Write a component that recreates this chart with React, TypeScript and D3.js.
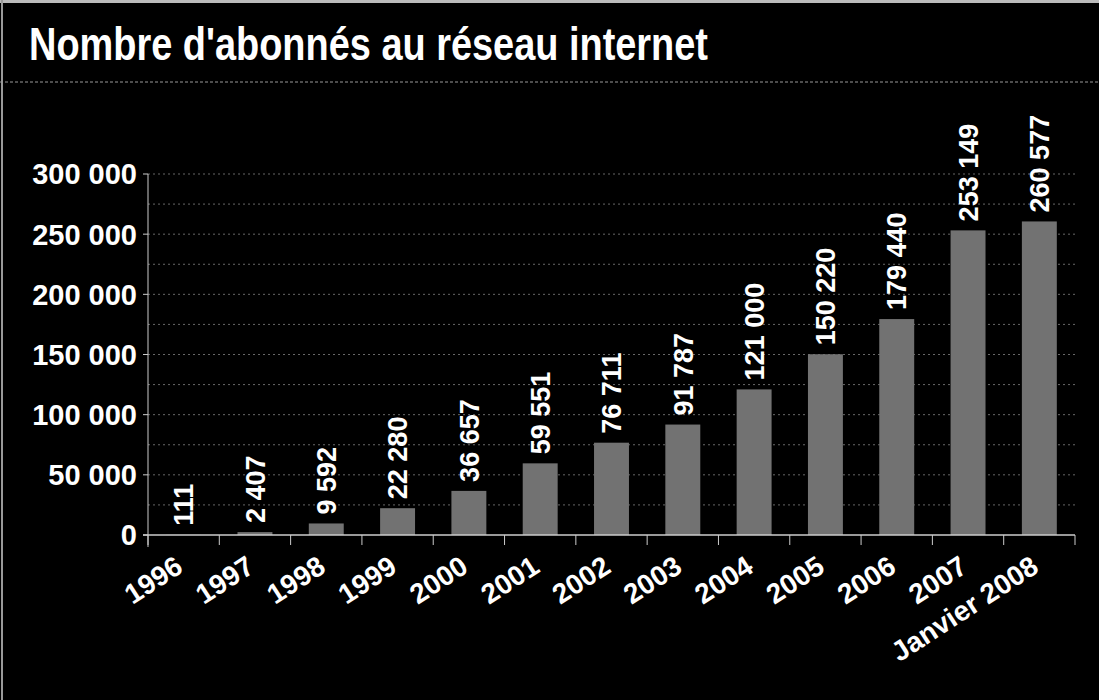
import { useRef, useEffect } from 'react'
import * as d3 from 'd3'

const categories = ['1996', '1997', '1998', '1999', '2000', '2001', '2002', '2003', '2004', '2005', '2006', '2007', 'Janvier 2008']
const subscribers = [111, 2407, 9592, 22280, 36657, 59551, 76711, 91787, 121000, 150220, 179440, 253149, 260577]
const yTicks = [0, 50000, 100000, 150000, 200000, 250000, 300000]
const gridValues = [25000, 50000, 75000, 100000, 125000, 150000, 175000, 200000, 225000, 250000, 275000, 300000]
const title = "Nombre d'abonnés au réseau internet"

const W = 1099
const H = 700

const App = () => {
  const svgRef = useRef(null)

  useEffect(() => {
    document.body.style.margin = '0'
    const svg = d3.select(svgRef.current)
    svg.selectAll('*').remove()

    const fr = d3.formatLocale({ decimal: ',', thousands: ' ', grouping: [3], currency: ['', ''] })
    const fmt = fr.format(',d')

    const x = d3.scaleBand()
      .domain(categories)
      .range([148, 1075])
      .paddingInner(0.51)
      .paddingOuter(0.255)

    const y = d3.scaleLinear()
      .domain([0, 300000])
      .range([535, 174])

    // background
    svg.append('rect').attr('width', W).attr('height', H).attr('fill', '#000')
    svg.append('rect').attr('width', W).attr('height', 3).attr('fill', '#bbb')
    svg.append('rect').attr('x', 1).attr('width', 2).attr('height', H).attr('fill', '#999')

    // title
    svg.append('text')
      .attr('x', 29)
      .attr('y', 60)
      .attr('fill', '#fff')
      .attr('font-family', '"Liberation Sans Narrow", "Arial Narrow", "Liberation Sans", Arial, sans-serif')
      .attr('font-weight', 'bold')
      .attr('font-size', 47)
      .attr('textLength', 679)
      .attr('lengthAdjust', 'spacingAndGlyphs')
      .text(title)

    svg.append('line')
      .attr('x1', 0).attr('x2', W)
      .attr('y1', 82).attr('y2', 82)
      .attr('stroke', '#999')
      .attr('stroke-dasharray', '3,2')

    // gridlines
    svg.append('g')
      .selectAll('line')
      .data(gridValues)
      .join('line')
      .attr('x1', 148).attr('x2', 1075)
      .attr('y1', d => y(d)).attr('y2', d => y(d))
      .attr('stroke', '#8a8a8a')
      .attr('stroke-width', 1)
      .attr('stroke-dasharray', '2,3')
      .attr('opacity', 0.75)

    // bars
    svg.append('g')
      .selectAll('rect')
      .data(subscribers)
      .join('rect')
      .attr('x', (d, i) => x(categories[i]))
      .attr('width', x.bandwidth())
      .attr('y', d => y(d))
      .attr('height', d => y(0) - y(d))
      .attr('fill', '#727272')

    // axes
    svg.append('line')
      .attr('x1', 148).attr('x2', 148)
      .attr('y1', 174).attr('y2', 547)
      .attr('stroke', '#ccc')
    svg.append('line')
      .attr('x1', 143).attr('x2', 1075)
      .attr('y1', 535).attr('y2', 535)
      .attr('stroke', '#ccc')
      .attr('stroke-width', 1.5)

    svg.append('g')
      .selectAll('line')
      .data(categories.map((c, i) => i === 0 ? 148 : x(c) - x.step() * x.paddingInner() / 2).concat([1075]))
      .join('line')
      .attr('x1', d => d).attr('x2', d => d)
      .attr('y1', 535).attr('y2', 545)
      .attr('stroke', '#ccc')

    const yAxis = svg.append('g')
    yAxis.selectAll('line')
      .data(yTicks)
      .join('line')
      .attr('x1', 143).attr('x2', 148)
      .attr('y1', d => y(d)).attr('y2', d => y(d))
      .attr('stroke', '#ccc')
    yAxis.selectAll('text')
      .data(yTicks)
      .join('text')
      .attr('x', 137)
      .attr('y', d => y(d))
      .attr('dy', '0.36em')
      .attr('text-anchor', 'end')
      .attr('fill', '#fff')
      .attr('font-family', '"Liberation Sans", Arial, sans-serif')
      .attr('font-weight', 'bold')
      .attr('font-size', 29)
      .text(d => fmt(d))

    // value labels
    svg.append('g')
      .selectAll('text')
      .data(subscribers)
      .join('text')
      .attr('transform', (d, i) => `translate(${x(categories[i]) + x.bandwidth() / 2}, ${y(d) - 9}) rotate(-90)`)
      .attr('dy', '0.36em')
      .attr('text-anchor', 'start')
      .attr('fill', '#fff')
      .attr('font-family', '"Liberation Sans", Arial, sans-serif')
      .attr('font-weight', 'bold')
      .attr('font-size', 27)
      .text(d => fmt(d))

    // category labels
    svg.append('g')
      .selectAll('text')
      .data(categories)
      .join('text')
      .attr('transform', d => `translate(${x(d) + x.bandwidth() / 2 + 1}, 571) rotate(-33)`)
      .attr('text-anchor', 'end')
      .attr('fill', '#fff')
      .attr('font-family', '"Liberation Sans", Arial, sans-serif')
      .attr('font-weight', 'bold')
      .attr('font-size', 28)
      .text(d => d)
  }, [])

  return (
    <svg ref={svgRef} width={W} height={H} style={{ display: 'block' }} />
  )
}

export default App
